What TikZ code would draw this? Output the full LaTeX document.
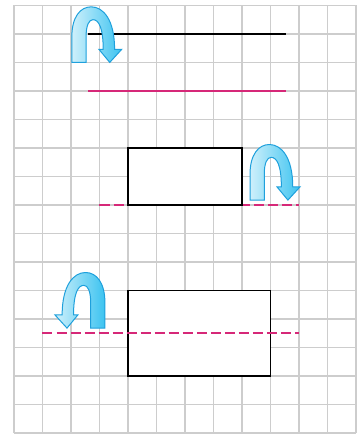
\documentclass[tikz,border=0pt]{standalone}
\usepackage{tikz}
\usetikzlibrary{positioning}
\usepackage{xcolor}
\definecolor{gridgray}{RGB}{205,205,205}
\definecolor{foldpink}{RGB}{214,40,120}
\definecolor{arrowblue}{RGB}{30,160,220}
\definecolor{arrowfill}{RGB}{60,195,240}

\begin{document}
\begin{tikzpicture}[x=0.5cm,y=0.5cm,
  gridline/.style={gridgray,line width=0.6pt},
  edge/.style={black,line width=0.8pt},
  foldline/.style={foldpink,line width=0.8pt},
  flip/.pic={
    \draw[arrowblue,line width=0.5pt,left color=arrowfill!25!white,right color=arrowfill]
      (0,0) -- (0,0.9) .. controls (0,1.6) and (0.3,1.95) .. (0.68,1.95)
      .. controls (1.1,1.95) and (1.5,1.5) .. (1.5,0.46) -- (1.75,0.46) -- (1.33,0)
      -- (0.95,0.46) -- (1.1,0.46) .. controls (1.1,1.2) and (0.95,1.5) .. (0.74,1.5)
      .. controls (0.6,1.5) and (0.5,1.3) .. (0.5,0.9) -- (0.5,0) -- cycle;
  }]
\useasboundingbox (-0.49,-0.07) rectangle (12.07,15.19);
\draw[gridline,step=1] (0,0) grid (12,15);

% line and its copy
\coordinate (l1) at (2.6,14);
\coordinate (r1) at (9.55,14);
\coordinate (l2) at (2.6,12);
\coordinate (r2) at (9.55,12);
\draw[edge] (l1) -- (r1);
\draw[foldline] (l2) -- (r2);
\pic at (2.03,13.0) {flip};

% rectangle on the fold line
\coordinate (f1) at (3,8);
\coordinate (f2) at (10,8);
\draw[foldline,dash pattern=on 5pt off 2pt] (f1) -- (f2);
\draw[edge,fill=white] (4,8) rectangle (8,10);
\pic at (8.28,8.17) {flip};

% rectangle cut by the fold line
\coordinate (g1) at (1,3.5);
\coordinate (g2) at (10,3.5);
\draw[edge,fill=white] (4,2) rectangle (9,5);
\draw[foldline,dash pattern=on 5pt off 2pt] (g1) -- (g2);
\pic[xscale=-1] at (3.19,3.68) {flip};
\end{tikzpicture}
\end{document}
